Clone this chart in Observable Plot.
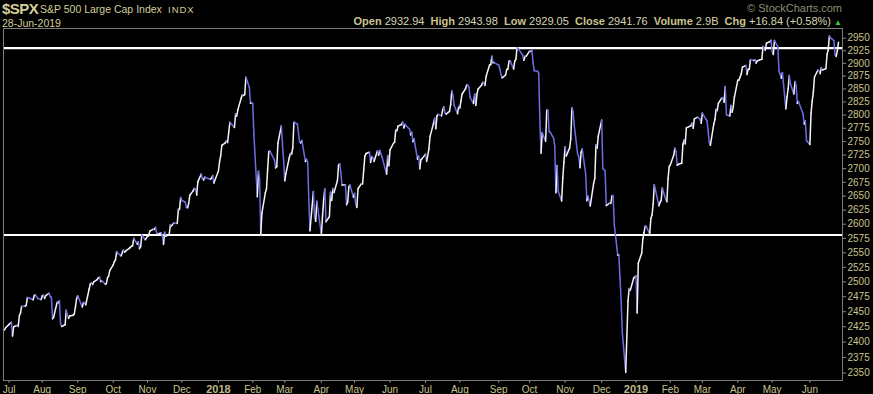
<!DOCTYPE html>
<html>
<head>
<meta charset="utf-8">
<script src="https://cdn.jsdelivr.net/npm/d3@7"></script>
<script src="https://cdn.jsdelivr.net/npm/@observablehq/plot@0.6"></script>
<style>
  html, body { margin: 0; padding: 0; background: #000; }
  #wrap { position: relative; width: 873px; height: 394px; background: #000; overflow: hidden;
          font-family: "Liberation Sans", Arial, sans-serif; }
  .t { position: absolute; white-space: nowrap; line-height: 1; }
  #info b { color: #c9c38e; font-weight: bold; }
  #info span.v { color: #d8d5b4; }
</style>
</head>
<body>
<div id="wrap">
  <div id="chart"></div>
  <div class="t" id="sym" style="left:2px; top:1px; font-size:15px; letter-spacing:-0.5px; font-weight:bold; color:#d2cd9a;"></div>
  <div class="t" id="name" style="left:40px; top:4px; font-size:10.5px; color:#d2cd9a;"></div>
  <div class="t" id="exch" style="left:168px; top:5px; font-size:9.5px; letter-spacing:1px; color:#d2cd9a;"></div>
  <div class="t" id="date" style="left:2px; top:18px; font-size:10.5px; color:#d2cd9a;"></div>
  <div class="t" id="wm" style="right:31px; top:3px; font-size:11px; color:#8f8d72;"></div>
  <div class="t" id="info" style="right:31px; top:16px; font-size:11px;"></div>
</div>
<script>
// ---- header texts ----
const symbol = "$SPX";
const indexName = "S&P 500 Large Cap Index";
const exchange = "INDX";
const lastDate = "28-Jun-2019";
const watermark = "© StockCharts.com";
const infoLabels = ["Open", "High", "Low", "Close", "Volume", "Chg"];
const infoValues = ["2932.94", "2943.98", "2929.05", "2941.76", "2.9B", "+16.84 (+0.58%)"];

// ---- horizontal levels ----
const levels = [2930, 2581];

// ---- axis ticks ----
const yTicks = [2350, 2375, 2400, 2425, 2450, 2475, 2500, 2525, 2550, 2575, 2600, 2625, 2650,
                2675, 2700, 2725, 2750, 2775, 2800, 2825, 2850, 2875, 2900, 2925, 2950];
const monthTickDates = ["2017-07-03","2017-08-01","2017-09-01","2017-10-02","2017-11-01","2017-12-01",
  "2018-02-01","2018-03-01","2018-04-02","2018-05-01","2018-06-01","2018-07-02","2018-08-01","2018-09-04",
  "2018-10-01","2018-11-01","2018-12-03","2019-02-01","2019-03-01","2019-04-01","2019-05-01","2019-06-03"];
const monthTickLabels = ["Jul","Aug","Sep","Oct","Nov","Dec","Feb","Mar","Apr","May","Jun","Jul","Aug","Sep",
  "Oct","Nov","Dec","Feb","Mar","Apr","May","Jun"];
const yearTickDates = ["2018-01-02", "2019-01-02"];
const yearTickLabels = ["2018", "2019"];

// ---- daily closes ----
const closes2017 = [
["2017-06-29",2419.70],["2017-06-30",2423.41],
["2017-07-03",2429.01],["2017-07-05",2432.54],["2017-07-06",2409.75],["2017-07-07",2425.18],
["2017-07-10",2427.43],["2017-07-11",2425.53],["2017-07-12",2443.25],["2017-07-13",2447.83],["2017-07-14",2459.27],
["2017-07-17",2459.14],["2017-07-18",2460.61],["2017-07-19",2473.83],["2017-07-20",2473.45],["2017-07-21",2472.54],
["2017-07-24",2469.91],["2017-07-25",2477.13],["2017-07-26",2477.83],["2017-07-27",2475.42],["2017-07-28",2472.10],
["2017-07-31",2470.30],["2017-08-01",2476.35],["2017-08-02",2477.57],["2017-08-03",2472.16],["2017-08-04",2476.83],
["2017-08-07",2480.91],["2017-08-08",2474.92],["2017-08-09",2474.02],["2017-08-10",2438.21],["2017-08-11",2441.32],
["2017-08-14",2465.84],["2017-08-15",2464.61],["2017-08-16",2468.11],["2017-08-17",2430.01],["2017-08-18",2425.55],
["2017-08-21",2428.37],["2017-08-22",2452.51],["2017-08-23",2444.04],["2017-08-24",2438.97],["2017-08-25",2443.05],
["2017-08-28",2444.24],["2017-08-29",2446.30],["2017-08-30",2457.59],["2017-08-31",2471.65],["2017-09-01",2476.55],
["2017-09-05",2457.85],["2017-09-06",2465.54],["2017-09-07",2465.10],["2017-09-08",2461.43],
["2017-09-11",2488.11],["2017-09-12",2496.48],["2017-09-13",2498.37],["2017-09-14",2495.62],["2017-09-15",2500.23],
["2017-09-18",2503.87],["2017-09-19",2506.65],["2017-09-20",2508.24],["2017-09-21",2500.60],["2017-09-22",2502.22],
["2017-09-25",2496.66],["2017-09-26",2496.84],["2017-09-27",2507.04],["2017-09-28",2510.06],["2017-09-29",2519.36],
["2017-10-02",2529.12],["2017-10-03",2534.58],["2017-10-04",2537.74],["2017-10-05",2552.07],["2017-10-06",2549.33],
["2017-10-09",2544.73],["2017-10-10",2550.64],["2017-10-11",2555.24],["2017-10-12",2550.93],["2017-10-13",2553.17],
["2017-10-16",2557.64],["2017-10-17",2559.36],["2017-10-18",2561.26],["2017-10-19",2562.10],["2017-10-20",2575.21],
["2017-10-23",2564.98],["2017-10-24",2569.13],["2017-10-25",2557.15],["2017-10-26",2560.40],["2017-10-27",2581.07],
["2017-10-30",2572.83],["2017-10-31",2575.26],["2017-11-01",2579.36],["2017-11-02",2579.85],["2017-11-03",2587.84],
["2017-11-06",2591.13],["2017-11-07",2590.64],["2017-11-08",2594.38],["2017-11-09",2584.62],["2017-11-10",2582.30],
["2017-11-13",2584.84],["2017-11-14",2578.87],["2017-11-15",2564.62],["2017-11-16",2585.64],["2017-11-17",2578.85],
["2017-11-20",2582.14],["2017-11-21",2599.03],["2017-11-22",2597.08],["2017-11-24",2602.42],
["2017-11-27",2601.42],["2017-11-28",2627.04],["2017-11-29",2626.07],["2017-11-30",2647.58],["2017-12-01",2642.22],
["2017-12-04",2639.44],["2017-12-05",2629.57],["2017-12-06",2629.27],["2017-12-07",2636.98],["2017-12-08",2651.50],
["2017-12-11",2659.99],["2017-12-12",2664.11],["2017-12-13",2662.85],["2017-12-14",2652.01],["2017-12-15",2675.81],
["2017-12-18",2690.16],["2017-12-19",2681.47],["2017-12-20",2679.25],["2017-12-21",2684.57],["2017-12-22",2683.34],
["2017-12-26",2680.50],["2017-12-27",2682.62],["2017-12-28",2687.54],["2017-12-29",2673.61]
];
const closes2018 = [
["2018-01-02",2695.81],["2018-01-03",2713.06],["2018-01-04",2723.99],["2018-01-05",2743.15],
["2018-01-08",2747.71],["2018-01-09",2751.29],["2018-01-10",2748.23],["2018-01-11",2767.56],["2018-01-12",2786.24],
["2018-01-16",2776.42],["2018-01-17",2802.56],["2018-01-18",2798.03],["2018-01-19",2810.30],
["2018-01-22",2832.97],["2018-01-23",2839.13],["2018-01-24",2837.54],["2018-01-25",2839.25],["2018-01-26",2872.87],
["2018-01-29",2853.53],["2018-01-30",2822.43],["2018-01-31",2823.81],["2018-02-01",2821.98],["2018-02-02",2762.13],
["2018-02-05",2648.94],["2018-02-06",2695.14],["2018-02-07",2681.66],["2018-02-08",2581.00],["2018-02-09",2619.55],
["2018-02-12",2656.00],["2018-02-13",2662.94],["2018-02-14",2698.63],["2018-02-15",2731.20],["2018-02-16",2732.22],
["2018-02-20",2716.26],["2018-02-21",2701.33],["2018-02-22",2703.96],["2018-02-23",2747.30],
["2018-02-26",2779.60],["2018-02-27",2744.28],["2018-02-28",2713.83],["2018-03-01",2677.67],["2018-03-02",2691.25],
["2018-03-05",2720.94],["2018-03-06",2728.12],["2018-03-07",2726.80],["2018-03-08",2738.97],["2018-03-09",2786.57],
["2018-03-12",2783.02],["2018-03-13",2765.31],["2018-03-14",2749.48],["2018-03-15",2747.33],["2018-03-16",2752.01],
["2018-03-19",2712.92],["2018-03-20",2716.94],["2018-03-21",2711.93],["2018-03-22",2643.69],["2018-03-23",2588.26],
["2018-03-26",2658.55],["2018-03-27",2612.62],["2018-03-28",2605.00],["2018-03-29",2640.87],
["2018-04-02",2581.88],["2018-04-03",2614.45],["2018-04-04",2644.69],["2018-04-05",2662.84],["2018-04-06",2604.47],
["2018-04-09",2613.16],["2018-04-10",2656.87],["2018-04-11",2642.19],["2018-04-12",2663.99],["2018-04-13",2656.30],
["2018-04-16",2677.84],["2018-04-17",2706.39],["2018-04-18",2708.64],["2018-04-19",2693.13],["2018-04-20",2670.14],
["2018-04-23",2670.29],["2018-04-24",2634.56],["2018-04-25",2639.40],["2018-04-26",2666.94],["2018-04-27",2669.91],
["2018-04-30",2648.05],["2018-05-01",2654.80],["2018-05-02",2635.67],["2018-05-03",2629.73],["2018-05-04",2663.42],
["2018-05-07",2672.63],["2018-05-08",2671.92],["2018-05-09",2697.79],["2018-05-10",2723.07],["2018-05-11",2727.72],
["2018-05-14",2730.13],["2018-05-15",2711.45],["2018-05-16",2722.46],["2018-05-17",2720.13],["2018-05-18",2712.97],
["2018-05-21",2733.01],["2018-05-22",2724.44],["2018-05-23",2733.29],["2018-05-24",2727.76],["2018-05-25",2721.33],
["2018-05-29",2689.86],["2018-05-30",2724.01],["2018-05-31",2705.27],["2018-06-01",2734.62],
["2018-06-04",2746.87],["2018-06-05",2748.80],["2018-06-06",2772.35],["2018-06-07",2770.37],["2018-06-08",2779.03],
["2018-06-11",2782.00],["2018-06-12",2786.85],["2018-06-13",2775.63],["2018-06-14",2782.49],["2018-06-15",2779.66],
["2018-06-18",2773.75],["2018-06-19",2762.59],["2018-06-20",2767.32],["2018-06-21",2749.76],["2018-06-22",2754.88],
["2018-06-25",2717.07],["2018-06-26",2723.06],["2018-06-27",2699.63],["2018-06-28",2716.31],["2018-06-29",2718.37],
["2018-07-02",2726.71],["2018-07-03",2713.22],["2018-07-05",2736.61],["2018-07-06",2759.82],
["2018-07-09",2784.17],["2018-07-10",2793.84],["2018-07-11",2774.02],["2018-07-12",2798.29],["2018-07-13",2801.31],
["2018-07-16",2798.43],["2018-07-17",2809.55],["2018-07-18",2815.62],["2018-07-19",2804.49],["2018-07-20",2801.83],
["2018-07-23",2806.98],["2018-07-24",2820.40],["2018-07-25",2846.07],["2018-07-26",2837.44],["2018-07-27",2818.82],
["2018-07-30",2802.60],["2018-07-31",2816.29],["2018-08-01",2813.36],["2018-08-02",2827.22],["2018-08-03",2840.35],
["2018-08-06",2850.40],["2018-08-07",2858.45],["2018-08-08",2857.70],["2018-08-09",2853.58],["2018-08-10",2833.28],
["2018-08-13",2821.93],["2018-08-14",2839.96],["2018-08-15",2818.37],["2018-08-16",2840.69],["2018-08-17",2850.13],
["2018-08-20",2857.05],["2018-08-21",2862.96],["2018-08-22",2861.82],["2018-08-23",2856.98],["2018-08-24",2874.69],
["2018-08-27",2896.74],["2018-08-28",2897.52],["2018-08-29",2914.04],["2018-08-30",2901.13],["2018-08-31",2901.52],
["2018-09-04",2896.72],["2018-09-05",2888.60],["2018-09-06",2878.05],["2018-09-07",2871.68],
["2018-09-10",2877.13],["2018-09-11",2887.89],["2018-09-12",2888.92],["2018-09-13",2904.18],["2018-09-14",2904.98],
["2018-09-17",2888.80],["2018-09-18",2904.31],["2018-09-19",2907.95],["2018-09-20",2930.75],["2018-09-21",2929.67],
["2018-09-24",2919.37],["2018-09-25",2915.56],["2018-09-26",2905.97],["2018-09-27",2914.00],["2018-09-28",2913.98],
["2018-10-01",2924.59],["2018-10-02",2923.43],["2018-10-03",2925.51],["2018-10-04",2901.61],["2018-10-05",2885.57],
["2018-10-08",2884.43],["2018-10-09",2880.34],["2018-10-10",2785.68],["2018-10-11",2728.37],["2018-10-12",2767.13],
["2018-10-15",2750.79],["2018-10-16",2809.92],["2018-10-17",2809.21],["2018-10-18",2768.78],["2018-10-19",2767.78],
["2018-10-22",2755.88],["2018-10-23",2740.69],["2018-10-24",2656.10],["2018-10-25",2705.57],["2018-10-26",2658.69],
["2018-10-29",2641.25],["2018-10-30",2682.63],["2018-10-31",2711.74],["2018-11-01",2740.37],["2018-11-02",2723.06],
["2018-11-05",2738.31],["2018-11-06",2755.45],["2018-11-07",2813.89],["2018-11-08",2806.83],["2018-11-09",2781.01],
["2018-11-12",2726.22],["2018-11-13",2722.18],["2018-11-14",2701.58],["2018-11-15",2730.20],["2018-11-16",2736.27],
["2018-11-19",2690.73],["2018-11-20",2641.89],["2018-11-21",2649.93],["2018-11-23",2632.56],
["2018-11-26",2673.45],["2018-11-27",2682.17],["2018-11-28",2743.79],["2018-11-29",2737.80],["2018-11-30",2760.17],
["2018-12-03",2790.37],["2018-12-04",2700.06],["2018-12-06",2695.95],["2018-12-07",2633.08],
["2018-12-10",2637.72],["2018-12-11",2636.78],["2018-12-12",2651.07],["2018-12-13",2650.54],["2018-12-14",2599.95],
["2018-12-17",2545.94],["2018-12-18",2546.16],["2018-12-19",2506.96],["2018-12-20",2467.42],["2018-12-21",2416.62],
["2018-12-24",2351.10],["2018-12-26",2467.70],["2018-12-27",2488.83],["2018-12-28",2485.74],["2018-12-31",2506.85]
];
const closes2019 = [
["2019-01-02",2510.03],["2019-01-03",2447.89],["2019-01-04",2531.94],
["2019-01-07",2549.69],["2019-01-08",2574.41],["2019-01-09",2584.96],["2019-01-10",2596.64],["2019-01-11",2596.26],
["2019-01-14",2582.61],["2019-01-15",2610.30],["2019-01-16",2616.10],["2019-01-17",2635.96],["2019-01-18",2670.71],
["2019-01-22",2632.90],["2019-01-23",2638.70],["2019-01-24",2642.33],["2019-01-25",2664.76],
["2019-01-28",2643.85],["2019-01-29",2640.00],["2019-01-30",2681.05],["2019-01-31",2704.10],["2019-02-01",2706.53],
["2019-02-04",2724.87],["2019-02-05",2737.70],["2019-02-06",2731.61],["2019-02-07",2706.05],["2019-02-08",2707.88],
["2019-02-11",2709.80],["2019-02-12",2744.73],["2019-02-13",2753.03],["2019-02-14",2745.73],["2019-02-15",2775.60],
["2019-02-19",2779.76],["2019-02-20",2784.70],["2019-02-21",2774.88],["2019-02-22",2792.67],
["2019-02-25",2796.11],["2019-02-26",2793.90],["2019-02-27",2792.38],["2019-02-28",2784.49],["2019-03-01",2803.69],
["2019-03-04",2792.81],["2019-03-05",2789.65],["2019-03-06",2771.45],["2019-03-07",2748.93],["2019-03-08",2743.07],
["2019-03-11",2783.30],["2019-03-12",2791.52],["2019-03-13",2810.92],["2019-03-14",2808.48],["2019-03-15",2822.48],
["2019-03-18",2832.94],["2019-03-19",2832.57],["2019-03-20",2824.23],["2019-03-21",2854.88],["2019-03-22",2800.71],
["2019-03-25",2798.36],["2019-03-26",2818.46],["2019-03-27",2805.37],["2019-03-28",2815.44],["2019-03-29",2834.40],
["2019-04-01",2867.19],["2019-04-02",2867.24],["2019-04-03",2873.40],["2019-04-04",2879.39],["2019-04-05",2892.74],
["2019-04-08",2895.77],["2019-04-09",2878.20],["2019-04-10",2888.21],["2019-04-11",2888.32],["2019-04-12",2907.41],
["2019-04-15",2905.58],["2019-04-16",2907.06],["2019-04-17",2900.45],["2019-04-18",2905.03],
["2019-04-22",2907.97],["2019-04-23",2933.68],["2019-04-24",2927.25],["2019-04-25",2926.17],["2019-04-26",2939.88],
["2019-04-29",2943.03],["2019-04-30",2945.83],["2019-05-01",2923.73],["2019-05-02",2917.52],["2019-05-03",2945.64],
["2019-05-06",2932.47],["2019-05-07",2884.05],["2019-05-08",2879.42],["2019-05-09",2870.72],["2019-05-10",2881.40],
["2019-05-13",2811.87],["2019-05-14",2834.41],["2019-05-15",2850.96],["2019-05-16",2876.32],["2019-05-17",2859.53],
["2019-05-20",2840.23],["2019-05-21",2864.36],["2019-05-22",2856.27],["2019-05-23",2822.24],["2019-05-24",2826.06],
["2019-05-28",2802.39],["2019-05-29",2783.02],["2019-05-30",2788.86],["2019-05-31",2752.06],
["2019-06-03",2744.45],["2019-06-04",2803.27],["2019-06-05",2826.15],["2019-06-06",2843.49],["2019-06-07",2873.34],
["2019-06-10",2886.73],["2019-06-11",2885.72],["2019-06-12",2879.84],["2019-06-13",2891.64],["2019-06-14",2886.98],
["2019-06-17",2889.67],["2019-06-18",2917.75],["2019-06-19",2926.46],["2019-06-20",2954.18],["2019-06-21",2950.46],
["2019-06-24",2945.35],["2019-06-25",2917.38],["2019-06-26",2913.78],["2019-06-27",2924.92],["2019-06-28",2941.76]
];

// ---- build ----
const series = [...closes2017, ...closes2018, ...closes2019].map(([d, c]) => ({date: new Date(d), close: c}));
const segments = d3.pairs(series).map(([a, b]) => ({x1: a.date, y1: a.close, x2: b.date, y2: b.close, up: b.close >= a.close}));

// x domain: first point sits ~1px inside the left frame, last point ~4px inside the right frame
const DAY = 864e5;
const pxPerDay = (838 - 4) / ((series[series.length - 1].date - series[0].date) / DAY);
const xDomain = [new Date(+series[0].date - (1 / pxPerDay) * DAY),
                 new Date(+series[series.length - 1].date + (4 / pxPerDay) * DAY)];

const axisColor = "#c8c48e";
const chart = Plot.plot({
  width: 873, height: 394,
  marginLeft: 3, marginRight: 31, marginTop: 28, marginBottom: 14,
  style: {background: "#000", color: axisColor, fontFamily: "'Liberation Sans', Arial, sans-serif", fontSize: "10px", overflow: "visible"},
  x: {type: "utc", domain: xDomain},
  y: {type: "log", domain: [2338.2, 2969.5]},
  marks: [
    Plot.ruleY(levels, {stroke: "#ffffff", strokeWidth: 2.2}),
    Plot.link(segments, {x1: "x1", y1: "y1", x2: "x2", y2: "y2",
      stroke: d => d.up ? "#f4f4f4" : "#6d6de8", strokeWidth: 1.5, strokeLinecap: "round"}),
    Plot.frame({stroke: "#7c7c7c", strokeWidth: 1}),
    Plot.axisY(yTicks, {anchor: "right", tickSize: 3, tickPadding: 2, label: null,
      tickFormat: d => String(d), stroke: "#8a8a7a", fill: axisColor}),
    Plot.axisX(monthTickDates.map(d => new Date(d)), {anchor: "bottom", tickSize: 3, tickPadding: 2, label: null,
      tickFormat: (d, i) => monthTickLabels[i], stroke: "#8a8a7a", fill: axisColor}),
    Plot.axisX(yearTickDates.map(d => new Date(d)), {anchor: "bottom", tickSize: 3, tickPadding: 2, label: null,
      tickFormat: (d, i) => yearTickLabels[i], stroke: "#8a8a7a", fill: "#bdb88a", fontWeight: "bold", fontSize: 11})
  ]
});
document.getElementById("chart").appendChild(chart);

// ---- header ----
document.getElementById("sym").textContent = symbol;
document.getElementById("name").textContent = indexName;
document.getElementById("exch").textContent = exchange;
document.getElementById("date").textContent = lastDate;
document.getElementById("wm").textContent = watermark;
document.getElementById("info").innerHTML =
  infoLabels.map((l, i) => `<b>${l}</b> <span class="v">${infoValues[i]}</span>`).join("&nbsp;&nbsp;") +
  ` <span style="color:#33cc33;font-size:8px;">&#9650;</span>`;
</script>
</body>
</html>
